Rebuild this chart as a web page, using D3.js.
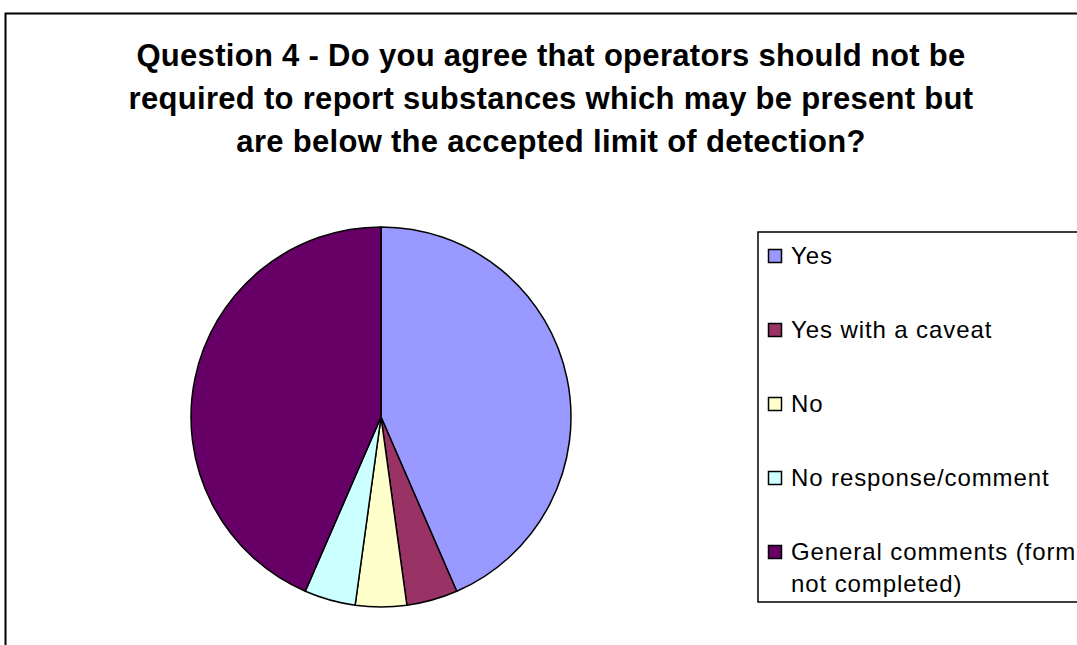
<!DOCTYPE html>
<html>
<head>
<meta charset="utf-8">
<script src="https://cdn.jsdelivr.net/npm/d3@7"></script>
<style>
  html, body { margin: 0; padding: 0; background: #fff; }
  svg { display: block; }
  text { font-family: "Liberation Sans", Arial, sans-serif; fill: #000; }
</style>
</head>
<body>
<svg id="chart" width="1077" height="645"></svg>
<script>
// Survey responses to question 4
const categories = [
  "Yes",
  "Yes with a caveat",
  "No",
  "No response/comment",
  "General comments (form not completed)"
];
const counts = [10, 1, 1, 1, 10];
const sliceColors = ["#9999FF", "#993366", "#FFFFCC", "#CCFFFF", "#660066"];
const titleLines = [
  "Question 4 - Do you agree that operators should not be",
  "required to report substances which may be present but",
  "are below the accepted limit of detection?"
];
// legend labels broken onto lines as they wrap inside the legend box
const legendLines = [
  ["Yes"],
  ["Yes with a caveat"],
  ["No"],
  ["No response/comment"],
  ["General comments (form", "not completed)"]
];

const svg = d3.select("#chart");

// chart area frame (runs off the right and bottom edges)
svg.append("rect")
  .attr("x", 5.5).attr("y", 13.5)
  .attr("width", 1200).attr("height", 800)
  .attr("fill", "#fff")
  .attr("stroke", "#000").attr("stroke-width", 2);

// title
svg.append("g")
  .selectAll("text")
  .data(titleLines)
  .join("text")
  .attr("x", 551)
  .attr("y", (d, i) => 66 + i * 43)
  .attr("text-anchor", "middle")
  .attr("font-size", 31)
  .attr("letter-spacing", 0.3)
  .attr("font-weight", "bold")
  .text(d => d);

// pie
const cx = 381, cy = 417, radius = 190;
const pie = d3.pie().sort(null).value(d => d)(counts);
const arc = d3.arc().innerRadius(0).outerRadius(radius);
const color = d3.scaleOrdinal().domain(categories).range(sliceColors);

svg.append("g")
  .attr("transform", `translate(${cx},${cy})`)
  .selectAll("path")
  .data(pie)
  .join("path")
  .attr("d", arc)
  .attr("fill", (d, i) => color(categories[i]))
  .attr("stroke", "#000")
  .attr("stroke-width", 1.5)
  .attr("stroke-linejoin", "round");

// legend
const legend = svg.append("g");
legend.append("rect")
  .attr("x", 758).attr("y", 232)
  .attr("width", 400).attr("height", 370)
  .attr("fill", "#fff")
  .attr("stroke", "#000").attr("stroke-width", 1.5);

const rowY = d3.scalePoint().domain(categories).range([264, 560]);

const items = legend.selectAll("g.item")
  .data(categories)
  .join("g")
  .attr("class", "item")
  .attr("transform", d => `translate(0,${rowY(d)})`);

items.append("rect")
  .attr("x", 768.5).attr("y", -14.5)
  .attr("width", 13).attr("height", 13)
  .attr("fill", d => color(d))
  .attr("stroke", "#000").attr("stroke-width", 1.5);

items.append("text")
  .attr("x", 791)
  .attr("font-size", 24)
  .attr("letter-spacing", 0.9)
  .selectAll("tspan")
  .data((d, i) => legendLines[i])
  .join("tspan")
  .attr("x", 791)
  .attr("dy", (d, j) => j === 0 ? 0 : 32)
  .text(d => d);
</script>
</body>
</html>
